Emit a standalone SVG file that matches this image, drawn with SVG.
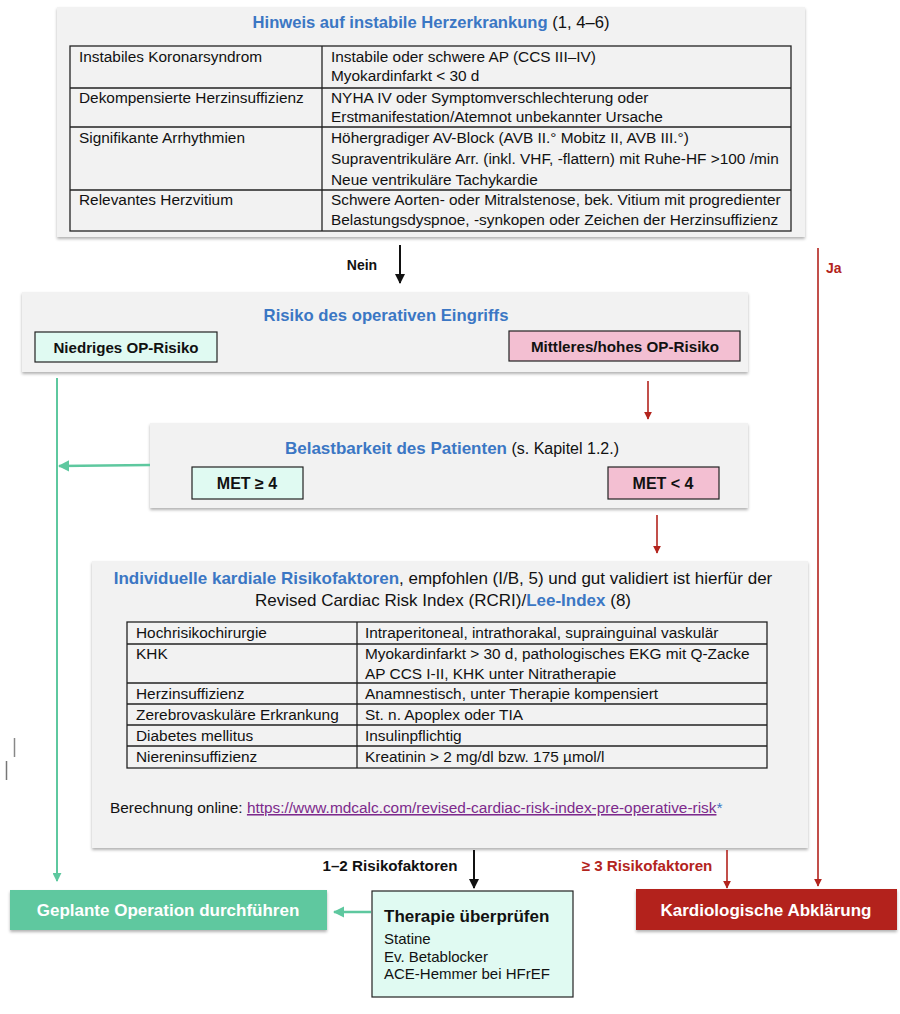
<svg xmlns="http://www.w3.org/2000/svg" width="900" height="1014" viewBox="0 0 900 1014">
<style>
text{font-family:"Liberation Sans",Arial,sans-serif;fill:#111}
.t{font-size:15.4px}
.tt{font-size:16.6px}
.b{font-weight:bold}
.blue{fill:#3b77c4;font-weight:bold}
.panel{fill:#f2f2f2}
.grid{fill:none;stroke:#222;stroke-width:1.3}
.gl{stroke:#222;stroke-width:1.3}
.mint{fill:#e0faf2;stroke:#222;stroke-width:1.2}
.pink{fill:#f3bfd2;stroke:#222;stroke-width:1.2}
.wt{fill:#fff;font-weight:bold;font-size:17px}
.red{fill:#b3241d}
</style>
<defs>
<filter id="sh" x="-5%" y="-10%" width="110%" height="125%">
<feDropShadow dx="0" dy="2" stdDeviation="1.5" flood-color="#000" flood-opacity="0.3"/>
</filter>
<marker id="ak" viewBox="0 0 10 10" refX="9" refY="5" markerWidth="5" markerHeight="5" orient="auto"><path d="M0,0L10,5L0,10z" fill="#111"/></marker>
<marker id="ar" viewBox="0 0 10 10" refX="9" refY="5" markerWidth="5" markerHeight="5" orient="auto"><path d="M0,0L10,5L0,10z" fill="#b3241d"/></marker>
<marker id="ag" viewBox="0 0 10 10" refX="9" refY="5" markerWidth="4.5" markerHeight="4.5" orient="auto"><path d="M0,0L10,5L0,10z" fill="#5ec89f"/></marker>
</defs>

<g id="instabil">
<rect x="57" y="7" width="748" height="230" class="panel" filter="url(#sh)"/>
<text x="431" y="28" class="tt" text-anchor="middle"><tspan class="blue">Hinweis auf instabile Herzerkrankung</tspan> (1, 4–6)</text>
<rect x="70" y="46" width="721" height="185" class="grid"/>
<line x1="322" y1="46" x2="322" y2="231" class="gl"/>
<line x1="70" y1="88" x2="791" y2="88" class="gl"/>
<line x1="70" y1="127" x2="791" y2="127" class="gl"/>
<line x1="70" y1="190" x2="791" y2="190" class="gl"/>
<text class="t" x="79" y="62">Instabiles Koronarsyndrom</text>
<text class="t" x="331" y="62">Instabile oder schwere AP (CCS III–IV)</text>
<text class="t" x="331" y="81">Myokardinfarkt &lt; 30 d</text>
<text class="t" x="79" y="103">Dekompensierte Herzinsuffizienz</text>
<text class="t" x="331" y="103">NYHA IV oder Symptomverschlechterung oder</text>
<text class="t" x="331" y="122">Erstmanifestation/Atemnot unbekannter Ursache</text>
<text class="t" x="79" y="143">Signifikante Arrhythmien</text>
<text class="t" x="331" y="143">Höhergradiger AV-Block (AVB II.° Mobitz II, AVB III.°)</text>
<text class="t" x="331" y="164">Supraventrikuläre Arr. (inkl. VHF, -flattern) mit Ruhe-HF &gt;100 /min</text>
<text class="t" x="331" y="185">Neue ventrikuläre Tachykardie</text>
<text class="t" x="79" y="205">Relevantes Herzvitium</text>
<text class="t" x="331" y="205">Schwere Aorten- oder Mitralstenose, bek. Vitium mit progredienter</text>
<text class="t" x="331" y="225">Belastungsdyspnoe, -synkopen oder Zeichen der Herzinsuffizienz</text>
</g>

<g id="risiko">
<rect x="22" y="292" width="726" height="80" class="panel" filter="url(#sh)"/>
<text x="386" y="321" class="blue" font-size="16.7" text-anchor="middle">Risiko des operativen Eingriffs</text>
<rect x="35" y="332" width="182" height="30" class="mint"/>
<text x="126" y="353" class="b" font-size="15.1" text-anchor="middle">Niedriges OP-Risiko</text>
<rect x="509" y="331" width="231" height="30" class="pink"/>
<text x="625" y="352" class="b" font-size="15.2" text-anchor="middle">Mittleres/hohes OP-Risiko</text>
</g>

<g id="belastbarkeit">
<rect x="150" y="423" width="598" height="85" class="panel" filter="url(#sh)"/>
<text x="452" y="454" font-size="16" text-anchor="middle"><tspan class="blue" font-size="17">Belastbarkeit des Patienten</tspan> (s. Kapitel 1.2.)</text>
<rect x="192" y="467" width="111" height="32" class="mint"/>
<text x="247" y="489" class="b" font-size="16" text-anchor="middle">MET ≥ 4</text>
<rect x="608" y="467" width="111" height="32" class="pink"/>
<text x="663" y="489" class="b" font-size="16" text-anchor="middle">MET &lt; 4</text>
</g>

<g id="rcri">
<rect x="92" y="561" width="716" height="287" class="panel" filter="url(#sh)"/>
<text x="443" y="584" font-size="17" text-anchor="middle"><tspan class="blue">Individuelle kardiale Risikofaktoren</tspan>, empfohlen (I/B, 5) und gut validiert ist hierfür der</text>
<text x="443" y="606" font-size="17" text-anchor="middle">Revised Cardiac Risk Index (RCRI)/<tspan class="blue">Lee-Index</tspan> (8)</text>
<rect x="127" y="622" width="640" height="146" class="grid"/>
<line x1="357" y1="622" x2="357" y2="768" class="gl"/>
<line x1="127" y1="644" x2="767" y2="644" class="gl"/>
<line x1="127" y1="683" x2="767" y2="683" class="gl"/>
<line x1="127" y1="704" x2="767" y2="704" class="gl"/>
<line x1="127" y1="725" x2="767" y2="725" class="gl"/>
<line x1="127" y1="746" x2="767" y2="746" class="gl"/>
<text class="t" x="136" y="638">Hochrisikochirurgie</text>
<text class="t" x="365" y="638">Intraperitoneal, intrathorakal, suprainguinal vaskulär</text>
<text class="t" x="136" y="659">KHK</text>
<text class="t" x="365" y="659">Myokardinfarkt &gt; 30 d, pathologisches EKG mit Q-Zacke</text>
<text class="t" x="365" y="679">AP CCS I-II, KHK unter Nitratherapie</text>
<text class="t" x="136" y="699">Herzinsuffizienz</text>
<text class="t" x="365" y="699">Anamnestisch, unter Therapie kompensiert</text>
<text class="t" x="136" y="720">Zerebrovaskuläre Erkrankung</text>
<text class="t" x="365" y="720">St. n. Apoplex oder TIA</text>
<text class="t" x="136" y="741">Diabetes mellitus</text>
<text class="t" x="365" y="741">Insulinpflichtig</text>
<text class="t" x="136" y="762">Niereninsuffizienz</text>
<text class="t" x="365" y="762">Kreatinin &gt; 2 mg/dl bzw. 175 µmol/l</text>
<text class="t" x="110" y="813">Berechnung online: <tspan fill="#7d2a8c" text-decoration="underline">https://www.mdcalc.com/revised-cardiac-risk-index-pre-operative-risk</tspan><tspan fill="#3b77c4">*</tspan></text>
</g>

<g id="geplant">
<rect x="10" y="890" width="317" height="40" fill="#5ec89f" filter="url(#sh)"/>
<text x="168" y="916" class="wt" text-anchor="middle">Geplante Operation durchführen</text>
</g>

<g id="therapie">
<rect x="372" y="891" width="201" height="106" class="mint"/>
<text x="384" y="922" class="b" font-size="17">Therapie überprüfen</text>
<text x="384" y="944" font-size="15">Statine</text>
<text x="384" y="962" font-size="15">Ev. Betablocker</text>
<text x="384" y="979" font-size="15">ACE-Hemmer bei HFrEF</text>
</g>

<g id="kardio">
<rect x="636" y="889" width="261" height="41" class="red" filter="url(#sh)"/>
<text x="766" y="916" class="wt" text-anchor="middle">Kardiologische Abklärung</text>
</g>

<g id="connectors" fill="none">
<line x1="400" y1="245" x2="400" y2="283" stroke="#111" stroke-width="2" marker-end="url(#ak)"/>
<text x="362" y="270" class="b" font-size="14" text-anchor="middle">Nein</text>
<line x1="818" y1="248" x2="818" y2="886" stroke="#b3241d" stroke-width="1.6" marker-end="url(#ar)"/>
<text x="826" y="273" class="b" font-size="14" style="fill:#b3241d">Ja</text>
<line x1="648" y1="381" x2="648" y2="419" stroke="#b3241d" stroke-width="1.6" marker-end="url(#ar)"/>
<line x1="57" y1="378" x2="57" y2="881" stroke="#5ec89f" stroke-width="2" marker-end="url(#ag)"/>
<line x1="150" y1="465" x2="59" y2="466" stroke="#5ec89f" stroke-width="2.5" marker-end="url(#ag)"/>
<line x1="657" y1="515" x2="657" y2="553" stroke="#b3241d" stroke-width="1.6" marker-end="url(#ar)"/>
<line x1="474" y1="850" x2="474" y2="888" stroke="#111" stroke-width="2" marker-end="url(#ak)"/>
<text x="390" y="871" class="b" font-size="15.2" text-anchor="middle">1–2 Risikofaktoren</text>
<line x1="727" y1="850" x2="727" y2="888" stroke="#b3241d" stroke-width="1.6" marker-end="url(#ar)"/>
<text x="647" y="871" class="b" font-size="15.2" text-anchor="middle" style="fill:#b3241d">≥ 3 Risikofaktoren</text>
<line x1="371" y1="912" x2="334" y2="912" stroke="#5ec89f" stroke-width="2.5" marker-end="url(#ag)"/>
</g>
<line x1="14.5" y1="738" x2="14.5" y2="757" stroke="#888" stroke-width="1.5"/>
<line x1="6.5" y1="761" x2="6.5" y2="780" stroke="#777" stroke-width="1.5"/>
</svg>
